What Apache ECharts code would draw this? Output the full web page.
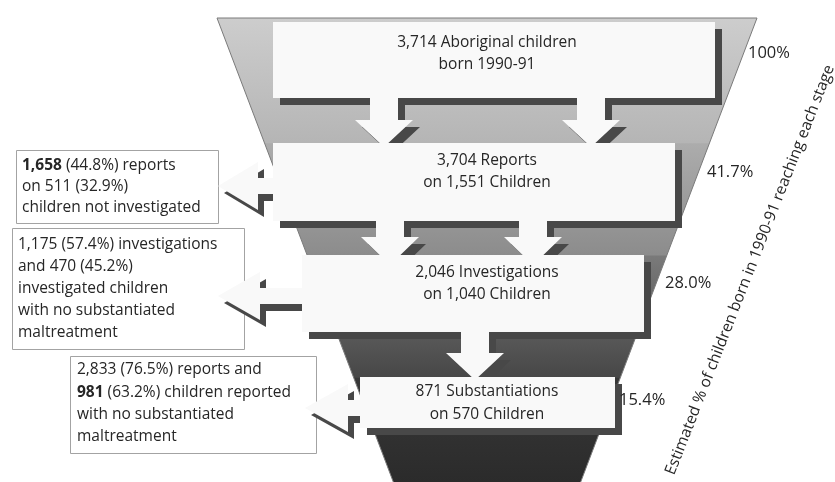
<!DOCTYPE html>
<html>
<head>
<meta charset="utf-8">
<style>
  html, body { margin: 0; padding: 0; background: #ffffff; }
  #chart { width: 835px; height: 482px; }
</style>
<script src="https://cdn.jsdelivr.net/npm/echarts@6/dist/echarts.min.js"></script>
</head>
<body>
<div id="chart"></div>
<script>
// Stage counts shown inside the funnel, top to bottom
const stageLines = [
  ['3,714 Aboriginal children', 'born 1990-91'],
  ['3,704 Reports', 'on 1,551 Children'],
  ['2,046 Investigations', 'on 1,040 Children'],
  ['871 Substantiations', 'on 570 Children']
];
// Share of the birth cohort reaching each stage
const stageShares = ['100%', '41.7%', '28.0%', '15.4%'];
// Side notes on cases that drop out between stages ({b|..} = bold)
const calloutLines = [
  ['{b|1,658} (44.8%) reports', 'on 511 (32.9%)', 'children not investigated'],
  ['1,175 (57.4%) investigations', 'and 470 (45.2%)', 'investigated children', 'with no substantiated', 'maltreatment'],
  ['2,833 (76.5%) reports and', '{b|981} (63.2%) children reported', 'with no substantiated', 'maltreatment']
];
const shareTitle = 'Estimated % of children born in 1990-91 reaching each stage';

// ---- layout ----
const FONT = '"Open Sans", "Noto Sans", sans-serif';
const FS = 15.5;
const TEXT = '#262626';
const SHADOW = '#484848';
const SH = 7; // drop shadow offset
const funnelTop = 18, funnelBottom = 490;
const funnelTL = 217, funnelTR = 757, slope = 0.38;
const centerX = 487;

const boxes = [
  { x: 273, y: 22, w: 442, h: 76, lineY: [43, 65] },
  { x: 273, y: 143, w: 402, h: 78, lineY: [161, 183] },
  { x: 302, y: 255, w: 342, h: 77, lineY: [273, 295] },
  { x: 360, y: 377, w: 255, h: 51, lineY: [392, 415] }
];
const sharePos = [[748, 53], [707, 172], [665, 283], [619, 400]];
// down arrows: centre x, top, end of shaft, tip
const downArrows = [
  [384, 97, 120, 147], [591, 97, 120, 147],
  [390, 220, 237, 265], [533, 220, 237, 265],
  [475, 331, 353, 380]
];
// left arrows: tip x, centre y, head base x, shaft end x
const leftArrows = [
  [218, 186, 258, 275],
  [218, 296, 260, 304],
  [305, 408, 348, 362]
];
const calloutBoxes = [
  { x: 16, y: 150, w: 202, h: 73, tx: 22, ty: 166, lh: 21 },
  { x: 12, y: 228, w: 232, h: 121, tx: 18, ty: 244.5, lh: 22 },
  { x: 70, y: 356, w: 246, h: 97, tx: 77, ty: 370, lh: 22.3 }
];

function downArrowPts(a, dx, dy) {
  const [cx, y0, y1, y2] = a, sw = 14, hw = 29;
  return [[cx - sw, y0], [cx + sw, y0], [cx + sw, y1], [cx + hw, y1], [cx, y2],
          [cx - hw, y1], [cx - sw, y1]].map(p => [p[0] + dx, p[1] + dy]);
}
function leftArrowPts(a, dx, dy) {
  const [tx, cy, hx, ex] = a, sh = 8, hh = 24;
  return [[tx, cy], [hx, cy - hh], [hx, cy - sh], [ex, cy - sh], [ex, cy + sh],
          [hx, cy + sh], [hx, cy + hh]].map(p => [p[0] + dx, p[1] + dy]);
}
const poly = (pts, fill, z, stroke) => ({
  type: 'polygon', z: z, silent: true,
  shape: { points: pts },
  style: { fill: fill, stroke: stroke || null, lineWidth: stroke ? 1 : 0 }
});
const rect = (x, y, w, h, fill, z, stroke) => ({
  type: 'rect', z: z, silent: true,
  shape: { x: x, y: y, width: w, height: h },
  style: { fill: fill, stroke: stroke || null, lineWidth: stroke ? 1 : 0 }
});
const label = (t, x, y, z, opts) => ({
  type: 'text', z: z, silent: true,
  x: x, y: y, rotation: (opts && opts.rotation) || 0,
  style: Object.assign({
    text: t, fill: TEXT, font: FS + 'px ' + FONT,
    textAlign: 'center', textVerticalAlign: 'middle',
    rich: { b: { fontWeight: 'bold', fontSize: FS, fontFamily: FONT, fill: TEXT } }
  }, (opts && opts.style) || {})
});

const H = funnelBottom - funnelTop;
const off = y => (y - funnelTop) / H;
const elements = [];

// funnel body with stepped grey shading
elements.push({
  type: 'polygon', z: 1, silent: true,
  shape: { points: [
    [funnelTL, funnelTop], [funnelTR, funnelTop],
    [funnelTR - slope * H, funnelBottom], [funnelTL + slope * H, funnelBottom]
  ] },
  style: {
    stroke: '#7a7a7a', lineWidth: 1,
    fill: { type: 'linear', x: 0, y: 0, x2: 0, y2: 1, colorStops: [
      { offset: 0, color: '#cdcdcd' },
      { offset: off(143), color: '#b5b5b5' },
      { offset: off(144), color: '#acacac' },
      { offset: off(255), color: '#8c8c8c' },
      { offset: off(256), color: '#7a7a7a' },
      { offset: off(377), color: '#474747' },
      { offset: off(378), color: '#383838' },
      { offset: 1, color: '#2a2a2a' }
    ] }
  }
});

// side note boxes
calloutBoxes.forEach((c, i) => {
  elements.push(rect(c.x + 0.5, c.y + 0.5, c.w, c.h, '#ffffff', 2, '#a3a3a3'));
  calloutLines[i].forEach((t, k) => {
    elements.push(label(t, c.tx, c.ty + k * c.lh, 10, { style: { textAlign: 'left' } }));
  });
});

// drop shadows
boxes.forEach(b => elements.push(rect(b.x + SH, b.y + SH, b.w, b.h, SHADOW, 3)));
downArrows.forEach(a => elements.push(poly(downArrowPts(a, SH, SH), SHADOW, 3)));
leftArrows.forEach(a => elements.push(poly(leftArrowPts(a, SH - 1, SH), SHADOW, 3)));

// white shapes
leftArrows.forEach(a => elements.push(poly(leftArrowPts(a, 0, 0), '#f9f9f9', 4)));
boxes.forEach(b => elements.push(rect(b.x, b.y, b.w, b.h, '#f9f9f9', 5)));
downArrows.forEach(a => elements.push(poly(downArrowPts(a, 0, 0), '#f9f9f9', 6)));

// stage text and shares
boxes.forEach((b, i) => {
  stageLines[i].forEach((t, k) => elements.push(label(t, centerX, b.lineY[k], 10)));
  elements.push(label(stageShares[i], sharePos[i][0], sharePos[i][1], 10,
    { style: { textAlign: 'left', font: '16.5px ' + FONT } }));
});

// slanted title beside the funnel
elements.push(label(shareTitle, 750, 270, 10, {
  rotation: 68.6 * Math.PI / 180,
  style: { font: '15.6px ' + FONT }
}));

const chart = echarts.init(document.getElementById('chart'), null, { renderer: 'canvas' });
chart.setOption({
  backgroundColor: '#ffffff',
  animation: false,
  graphic: { elements: elements }
});
</script>
</body>
</html>
